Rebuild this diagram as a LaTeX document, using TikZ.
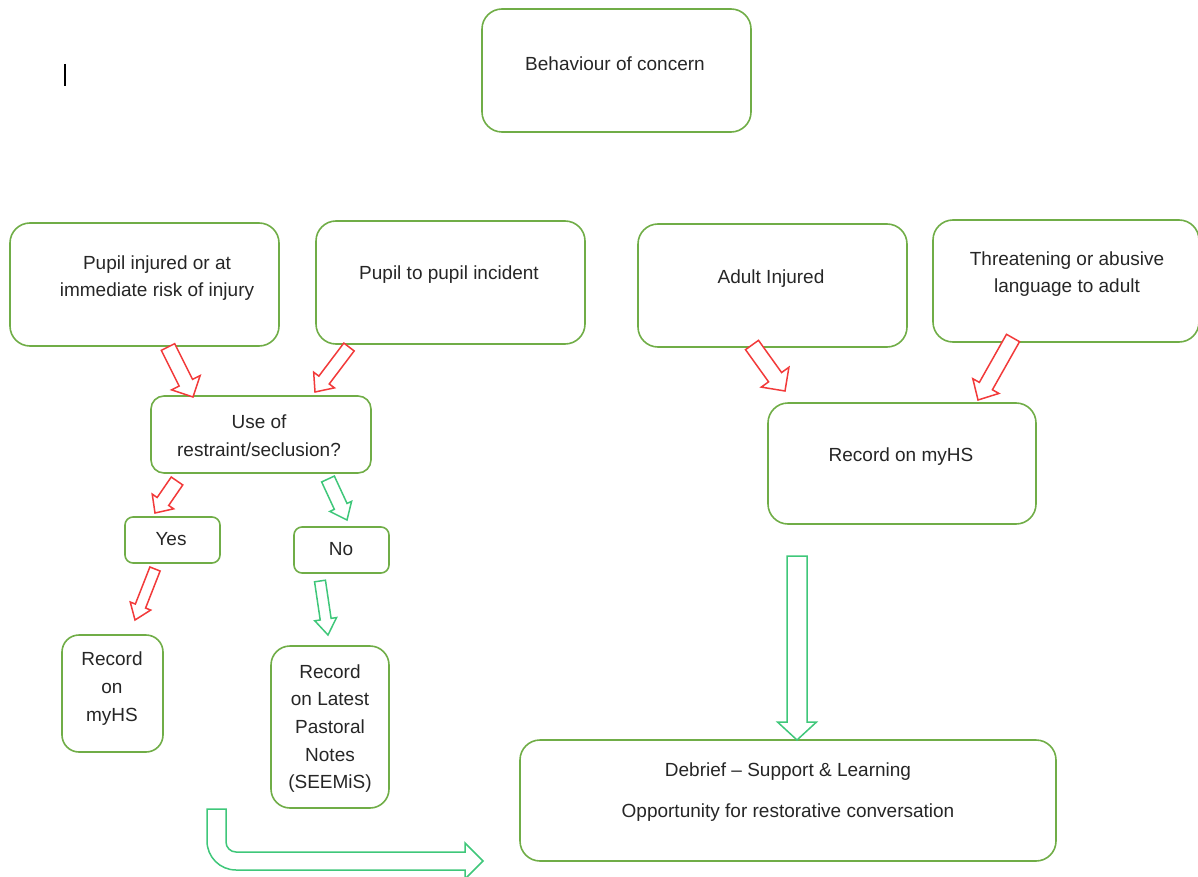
\documentclass[tikz,border=0pt]{standalone}
\usepackage{fontspec}
\setmainfont{Liberation Sans}
\usetikzlibrary{calc}
\definecolor{boxgreen}{HTML}{70AD47}
\definecolor{arrred}{HTML}{F23A3A}
\definecolor{arrgreen}{HTML}{3FC77A}
\definecolor{txt}{HTML}{262626}
\tikzset{
  box/.style={draw=boxgreen, line width=1.6pt, rounded corners=#1, inner sep=0pt},
  lbl/.style={text=txt, align=center, inner sep=0pt, font=\fontsize{19}{27.7}\selectfont},
  redarr/.style={draw=arrred, line width=1.5pt, line join=miter, fill=white},
  greenarr/.style={draw=arrgreen, line width=1.5pt, line join=miter, fill=white}
}
% #1 style, #2 tail, #3 tip, #4 shaft half width, #5 head half width, #6 head length
\newcommand\blockarrow[6]{%
  \coordinate (hb) at ($(#3)!#6!(#2)$);
  \draw[#1] ($(#2)!#4!90:(#3)$) -- ($(hb)!#4!-90:(#2)$) -- ($(hb)!#5!-90:(#2)$) -- (#3)
    -- ($(hb)!#5!90:(#2)$) -- ($(hb)!#4!90:(#2)$) -- ($(#2)!#4!-90:(#3)$) -- cycle;
}
\begin{document}
\begin{tikzpicture}[x=1pt, y=-1pt]
\useasboundingbox (0,0) rectangle (1198,877);
% text cursor
\coordinate (cur1) at (65,64);
\coordinate (cur2) at (65,86);
\draw[line width=1.8pt, black] (cur1) -- (cur2);

% boxes
\node[box=20pt, minimum width=269pt, minimum height=123pt] (bc) at (616.5,70.5) {};
\node[lbl] (tbc) at (615,63.5) {Behaviour of concern};

\node[box=20pt, minimum width=269pt, minimum height=123pt] (pi) at (144.5,284.5) {};
\node[lbl] (tpi) at (157,278) {Pupil injured or at\\immediate risk of injury};

\node[box=20pt, minimum width=269pt, minimum height=123pt] (pp) at (450.5,282.5) {};
\node[lbl] (tpp) at (449,274.5) {Pupil to pupil incident};

\node[box=20pt, minimum width=269pt, minimum height=123pt] (ai) at (772.5,285.5) {};
\node[lbl] (tai) at (771,278.5) {Adult Injured};

\node[box=20pt, minimum width=266pt, minimum height=122pt] (th) at (1066,281) {};
\node[lbl] (tth) at (1067,274) {Threatening or abusive\\language to adult};

\node[box=13pt, minimum width=220pt, minimum height=77pt] (ur) at (261,434.5) {};
\node[lbl] (tur) at (259,436) {Use of\\restraint/seclusion?};

\node[box=8pt, minimum width=95pt, minimum height=46pt] (yes) at (172.5,540) {};
\node[lbl] (tyes) at (171,539.5) {Yes};

\node[box=8pt, minimum width=95pt, minimum height=46pt] (no) at (341.5,550) {};
\node[lbl] (tno) at (341,549.5) {No};

\node[box=20pt, minimum width=268pt, minimum height=121pt] (rr) at (902,463.5) {};
\node[lbl] (trr) at (901,456.5) {Record on myHS};

\node[box=17pt, minimum width=101pt, minimum height=117pt] (rl) at (112.5,693.5) {};
\node[lbl] (trl) at (112,688.5) {Record\\on\\myHS};

\node[box=19pt, minimum width=118pt, minimum height=162pt] (rp) at (330,727) {};
\node[lbl] (trp) at (330,728.5) {Record\\on Latest\\Pastoral\\Notes\\(SEEMiS)};

\node[box=20pt, minimum width=536pt, minimum height=121pt] (db) at (788,800.5) {};
\node[lbl, font=\fontsize{19}{41}\selectfont] (tdb) at (788,792) {Debrief -- Support \& Learning\\Opportunity for restorative conversation};

% arrow end points
\coordinate (r1s) at (168,347);  \coordinate (r1e) at (193,397);
\coordinate (r2s) at (349,347);  \coordinate (r2e) at (315,392);
\coordinate (r3s) at (752,345);  \coordinate (r3e) at (785,391);
\coordinate (r4s) at (1013,338); \coordinate (r4e) at (978,400);
\coordinate (r5s) at (177,481);  \coordinate (r5e) at (155,513);
\coordinate (g6s) at (328,479);  \coordinate (g6e) at (347,520);
\coordinate (r7s) at (155,569);  \coordinate (r7e) at (135,620);
\coordinate (g8s) at (320,581);  \coordinate (g8e) at (328,635);
\coordinate (g9s) at (797,556);  \coordinate (g9e) at (797,740);

\blockarrow{redarr}{r1s}{r1e}{7.5pt}{16pt}{16pt}
\blockarrow{redarr}{r2s}{r2e}{6.5pt}{13pt}{15pt}
\blockarrow{redarr}{r3s}{r3e}{8pt}{17pt}{17pt}
\blockarrow{redarr}{r4s}{r4e}{7.5pt}{15pt}{16pt}
\blockarrow{redarr}{r5s}{r5e}{7pt}{13pt}{14pt}
\blockarrow{greenarr}{g6s}{g6e}{7pt}{12pt}{15pt}
\blockarrow{redarr}{r7s}{r7e}{5.5pt}{11pt}{15pt}
\blockarrow{greenarr}{g8s}{g8e}{5.5pt}{11pt}{16pt}
\blockarrow{greenarr}{g9s}{g9e}{10pt}{19.5pt}{18pt}

% bent arrow towards the debrief box
\coordinate (bs) at (216.5,809);
\coordinate (bt) at (483,861);
\draw[greenarr] ($(bs)+(-9.5,0)$) -- ($(bs)+(9.5,0)$) -- (226,842)
  arc[start angle=180, end angle=90, radius=10] -- (465,852) -- (465,843) -- (bt)
  -- (465,879) -- (465,870) -- (236,870)
  arc[start angle=90, end angle=180, radius=29] -- cycle;
\end{tikzpicture}
\end{document}
